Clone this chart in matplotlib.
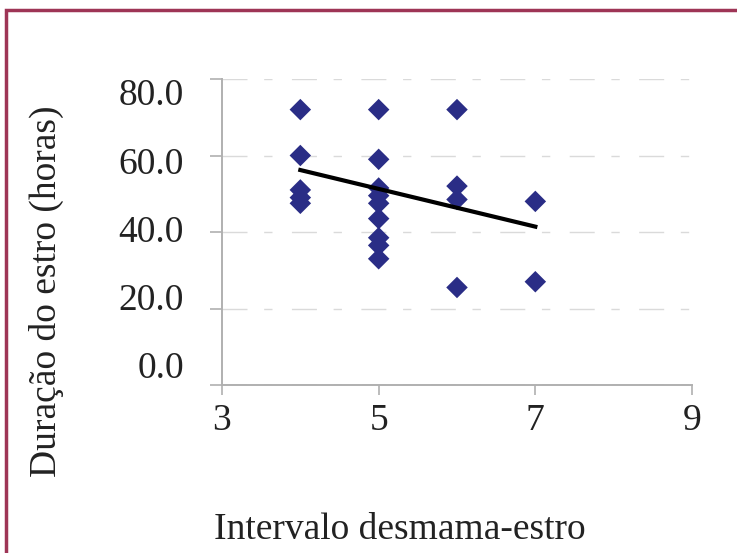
import matplotlib.pyplot as plt
from matplotlib.patches import Rectangle
from matplotlib.transforms import ScaledTranslation

# Intervalo desmama-estro (dias) x duração do estro (horas)
interval_days = [4, 4, 4, 4, 4,
                 5, 5, 5, 5, 5, 5, 5, 5, 5,
                 6, 6, 6, 6,
                 7, 7]
estrus_hours = [72.0, 60.0, 51.0, 49.0, 47.5,
                72.0, 59.0, 51.5, 49.5, 47.5, 43.5, 38.5, 36.5, 33.0,
                72.0, 52.0, 48.5, 25.5,
                48.0, 27.0]

# linear trend line end points
trend_x = [4, 7]
trend_y = [56.2, 41.4]

x_ticks = [3, 5, 7, 9]
y_ticks = [0, 20, 40, 60, 80]

plt.rcParams['font.family'] = ['Liberation Serif', 'DejaVu Serif']

W, H = 737, 553
fig = plt.figure(figsize=(W / 100, H / 100), dpi=100)
ax = fig.add_axes([222 / W, 1 - 385 / H, (692 - 222) / W, (385 - 79) / H])

# dark red frame around the chart (open at right and bottom)
fig.patches.append(Rectangle((6 / W, -0.1), 1.2, (H - 10) / H + 0.1,
                             transform=fig.transFigure, fill=False,
                             edgecolor='#9e3556', linewidth=2.5, clip_on=False))

ax.scatter(interval_days, estrus_hours, marker='D', s=120, color='#2a2d86',
           edgecolors='none', zorder=3)
ax.plot(trend_x, trend_y, color='black', linewidth=3.0, zorder=4)

ax.set_xlim(3, 9)
ax.set_ylim(0, 80)
ax.set_xticks(x_ticks)
ax.set_yticks(y_ticks)
ax.set_yticklabels([f'{v:.1f}' for v in y_ticks])

ax.grid(axis='y', color='#dadada', linewidth=1.0, linestyle=(0, (18, 12, 6, 14)))
ax.set_axisbelow(True)

for side in ['top', 'right']:
    ax.spines[side].set_visible(False)
for side in ['left', 'bottom']:
    ax.spines[side].set_color('#b0b0b0')
    ax.spines[side].set_linewidth(1.4)

ax.tick_params(axis='both', colors='#b0b0b0', labelcolor='#222222',
               labelsize=27, width=1.2)
ax.tick_params(axis='y', length=8.5, pad=19)
ax.tick_params(axis='x', length=7, pad=6)

# y tick labels are packed a bit tighter than the ticks themselves:
# 68 px between labels vs 76.5 px between ticks, top label 13 px low
for v, lab in zip(y_ticks, ax.get_yticklabels()):
    steps = (80 - v) / 20
    dy = 13 + steps * (68.3 - 76.5)
    lab.set_transform(lab.get_transform()
                      + ScaledTranslation(0, -dy / 100, fig.dpi_scale_trans))

fig.text(400 / W, 1 - 530 / H, 'Intervalo desmama-estro', ha='center',
         va='center', fontsize=27, color='#222222')
fig.text(46 / W, 1 - 291 / H, 'Duração do estro (horas)', ha='center',
         va='center', rotation=90, fontsize=27, color='#222222')

fig.savefig('out.png', dpi=100, facecolor='white')
